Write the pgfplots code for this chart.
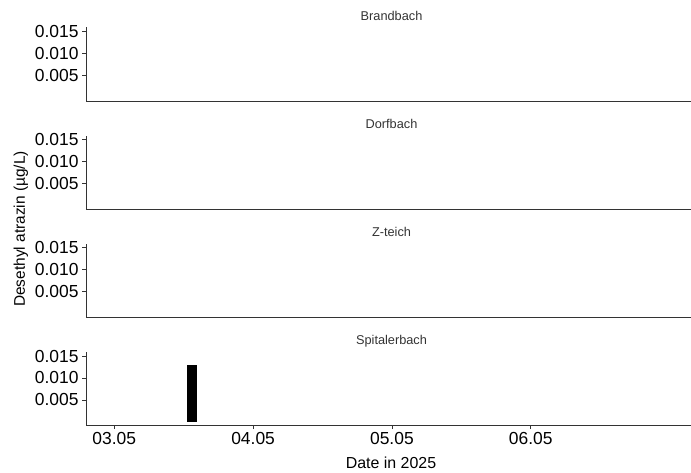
\documentclass[border=0pt]{standalone}
\usepackage{pgfplots}
\pgfplotsset{compat=1.18}
\usepackage{fontspec}
\setmainfont{Liberation Sans}
\definecolor{axgray}{HTML}{333333}
\newcommand{\facettitle}[1]{\node[anchor=base, font=\fontsize{12.8}{13}\selectfont, text=axgray] at (axis description cs:0.505,1) [yshift=7.3bp] {#1};}
\pgfplotsset{
  facet/.style={
    scale only axis, width=605bp, height=73.5bp,
    xmin=2.796, xmax=7.155, ymin=-0.00085, ymax=0.0159,
    axis x line*=bottom, axis y line*=left,
    axis line style={-, draw=axgray, line width=0.8pt},
    scaled y ticks=false,
    ytick={0.005,0.010,0.015}, yticklabels={0.005,0.010,0.015},
    tick align=outside, major tick length=3.5bp,
    tick style={draw=axgray, line width=0.7pt},
    ticklabel style={font=\fontsize{17.5}{18}\selectfont, text=black},
    yticklabel style={xshift=-0.5bp},
    clip=false,
  },
  noxt/.style={xtick=\empty},
}
\begin{document}
\begin{tikzpicture}
\useasboundingbox (0,0) rectangle (691bp,473bp);
\begin{axis}[facet, noxt, at={(86bp,372bp)}, anchor=south west]
\facettitle{Brandbach}
\end{axis}
\begin{axis}[facet, noxt, at={(86bp,263.8bp)}, anchor=south west]
\facettitle{Dorfbach}
\end{axis}
\begin{axis}[facet, noxt, at={(86bp,155.6bp)}, anchor=south west]
\facettitle{Z-teich}
\end{axis}
\begin{axis}[facet, at={(86bp,47.4bp)}, anchor=south west,
  xtick={3,4,5,6}, xticklabels={03.05,04.05,05.05,06.05}]
\addplot[ybar, fill=black, draw=none, bar width=0.066] coordinates {(3.56,0.013)};
\facettitle{Spitalerbach}
\end{axis}
\node[rotate=90, font=\fontsize{15.5}{16}\selectfont] at (21bp,244bp) {Desethyl atrazin (µg/L)};
\node[anchor=base, font=\fontsize{16}{16}\selectfont] at (391bp,5bp) {Date in 2025};
\end{tikzpicture}
\end{document}
